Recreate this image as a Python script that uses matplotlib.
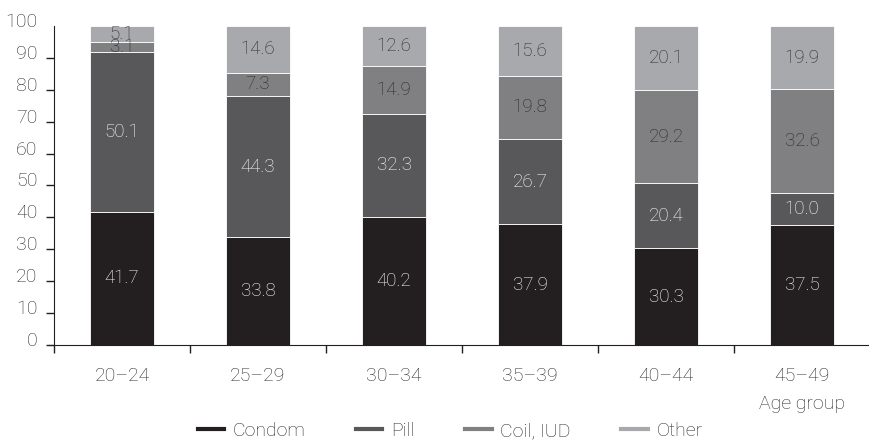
import matplotlib.pyplot as plt
import matplotlib.transforms as mtransforms
from matplotlib.lines import Line2D
import numpy as np

plt.rcParams['font.family'] = ['Roboto', 'DejaVu Sans']
plt.rcParams['font.weight'] = 'light'

groups = ["20\u201324", "25\u201329", "30\u201334", "35\u201339", "40\u201344", "45\u201349"]
methods = ["Condom", "Pill", "Coil, IUD", "Other"]
condom = [41.7, 33.8, 40.2, 37.9, 30.3, 37.5]
pill = [50.1, 44.3, 32.3, 26.7, 20.4, 10.0]
coil = [3.1, 7.3, 14.9, 19.8, 29.2, 32.6]
other = [5.1, 14.6, 12.6, 15.6, 20.1, 19.9]

colors = ["#231f20", "#58585a", "#808082", "#a7a9ac"]
text_colors = ["white", "white", "#2a2a2a", "#2a2a2a"]
txt = "#2a2a2a"

fig = plt.figure(figsize=(8.69, 4.40), dpi=100)
ax = fig.add_axes([54 / 869, 95 / 440, 816 / 869, 319 / 440])

x = np.arange(len(groups))
bottom = np.zeros(len(groups))
for vals, col, tcol in zip([condom, pill, coil, other], colors, text_colors):
    vals = np.array(vals)
    ax.bar(x, vals, width=0.47, bottom=bottom, color=col, edgecolor="white", linewidth=0.6)
    for xi, b, v in zip(x, bottom, vals):
        ax.text(xi, b + v / 2, f"{v:.1f}", ha="center", va="center",
                color=tcol, fontsize=13.5)
    bottom += vals

ax.set_xlim(-0.5, 5.5)
ax.set_ylim(0, 100)

for s in ["top", "right"]:
    ax.spines[s].set_visible(False)
ax.spines["left"].set_color("#231f20")
ax.spines["bottom"].set_color("#231f20")
ax.spines["bottom"].set_bounds(-0.54, 5.5)

ax.set_yticks(range(0, 101, 10))
ax.tick_params(axis="y", direction="out", length=6, width=1, colors="#231f20",
               labelsize=14, labelcolor=txt, pad=6)
yticks = ax.yaxis.get_major_ticks()
yticks[-1].tick1line.set_visible(False)
offset = mtransforms.ScaledTranslation(0, 6 / 100, fig.dpi_scale_trans)
for lbl in ax.get_yticklabels():
    lbl.set_transform(lbl.get_transform() + offset)

ax.set_xticks(x)
ax.set_xticklabels(groups)
ax.tick_params(axis="x", which="major", length=0, labelsize=14,
               labelcolor=txt, pad=16)
ax.set_xticks(np.arange(-0.5, 5.6, 1), minor=True)
ax.tick_params(axis="x", which="minor", length=6, width=1, colors="#231f20")

ax.text(5, -18.5, "Age group", ha="center", va="center", fontsize=14,
        color=txt)

handles = [Line2D([0], [0], color=c, lw=3) for c in colors]
fig.legend(handles, methods, loc="center", bbox_to_anchor=(0.518, 0.02), ncol=4,
           frameon=False, fontsize=14, handlelength=1.35, columnspacing=2.6,
           handletextpad=0.45, labelcolor=txt)

fig.savefig("out.png", dpi=100)
